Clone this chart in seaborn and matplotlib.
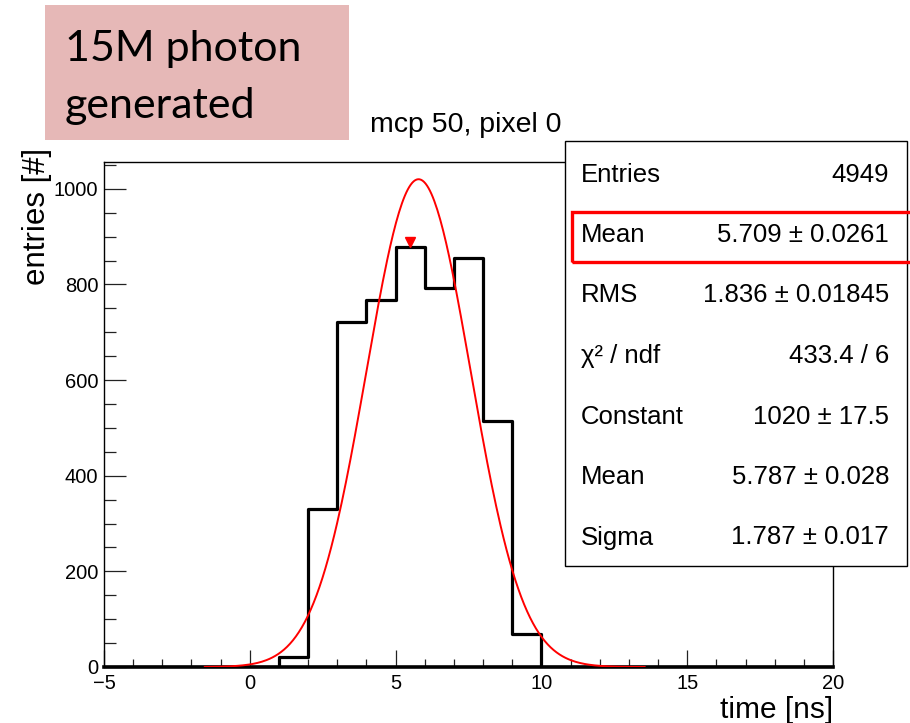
import numpy as np
import pandas as pd
import matplotlib
matplotlib.use("Agg")
import matplotlib.pyplot as plt
from matplotlib.patches import Rectangle
import seaborn as sns

# ---- data ----
bin_centers = [1.5, 2.5, 3.5, 4.5, 5.5, 6.5, 7.5, 8.5, 9.5]
bin_counts = [20, 330, 722, 768, 878, 793, 856, 514, 69]
hist_range = (-5, 20)
fit_constant = 1020.0
fit_mean = 5.787
fit_sigma = 1.787
fit_range = (-1.55, 13.55)
mean_marker = (5.51, 888)

stat_labels = ["Entries", "Mean", "RMS", "χ² / ndf", "Constant", "Mean", "Sigma"]
stat_values = ["4949", "5.709 ± 0.0261", "1.836 ± 0.01845", "433.4 / 6",
               "1020 ± 17.5", "5.787 ± 0.028", "1.787 ± 0.017"]
title = "mcp 50, pixel 0"
note_lines = ["15M photon", "generated"]
x_label = "time [ns]"
y_label = "entries [#]"
y_ticks = [0, 200, 400, 600, 800, 1000]
x_ticks = [-5, 0, 5, 10, 15, 20]

# ---- figure ----
sns.set_theme(style="white")
plt.rcParams["font.family"] = ["Liberation Sans", "DejaVu Sans"]
W, H = 910, 723
fig = plt.figure(figsize=(W / 100, H / 100), dpi=100)
fig.patch.set_facecolor("white")

def fx(px):
    return px / W

def fy(py):
    return 1 - py / H

ax = fig.add_axes([fx(104), fy(667), fx(833) - fx(104), fy(162) - fy(667)])
ax.set_facecolor("white")

df = pd.DataFrame({"t": bin_centers, "n": bin_counts})
sns.histplot(data=df, x="t", weights="n", binwidth=1, binrange=hist_range,
             element="step", fill=False, color="black", linewidth=2.3, ax=ax,
             zorder=3)

xf = np.linspace(fit_range[0], fit_range[1], 300)
yf = fit_constant * np.exp(-0.5 * ((xf - fit_mean) / fit_sigma) ** 2)
sns.lineplot(x=xf, y=yf, color="red", linewidth=1.4, ax=ax, zorder=4)
ax.plot([mean_marker[0]], [mean_marker[1]], marker="v", color="red",
        markersize=7, linestyle="none", zorder=5)

ax.set_xlim(hist_range)
ax.set_ylim(0, 1056)
ax.set_xticks(x_ticks)
ax.set_yticks(y_ticks)
ax.set_xticks(np.arange(-5, 21, 1), minor=True)
ax.set_yticks(np.arange(0, 1051, 50), minor=True)
ax.tick_params(axis="both", which="both", bottom=True, left=True,
               top=False, right=False, direction="in", color="#222222",
               width=0.9)
ax.tick_params(axis="x", which="major", length=12, pad=5, labelsize=14.5,
               labelcolor="black")
ax.tick_params(axis="x", which="minor", length=6)
ax.tick_params(axis="y", which="major", length=16, pad=4, labelsize=14.5,
               labelcolor="black")
ax.tick_params(axis="y", which="minor", length=8.5)
for s in ax.spines.values():
    s.set_color("black")
    s.set_linewidth(1.0)
ax.spines["bottom"].set_linewidth(2.6)
ax.spines["bottom"].set_zorder(3)
ax.set_xlabel("")
ax.set_ylabel("")

fig.text(fx(833), fy(718), x_label, ha="right", va="baseline", fontsize=21.5,
         color="black")
fig.text(fx(37), fy(148), y_label, ha="center", va="top", rotation=90,
         fontsize=22.5, color="black")
fig.text(fx(370), fy(132), title, ha="left", va="baseline", fontsize=20.5,
         color="black")

# pink note box
fig.add_artist(Rectangle((fx(45), fy(140)), fx(349) - fx(45), fy(5) - fy(140),
                         transform=fig.transFigure, facecolor="#e6b8b7",
                         edgecolor="none", zorder=1))
fig.text(fx(65), fy(61), note_lines[0], ha="left", va="baseline",
         fontsize=31, family=["Lato", "DejaVu Sans"], color="black", zorder=2)
fig.text(fx(65), fy(118), note_lines[1], ha="left", va="baseline",
         fontsize=31, family=["Lato", "DejaVu Sans"], color="black", zorder=2)

# stats box
fig.add_artist(Rectangle((fx(565), fy(566)), fx(907) - fx(565), fy(141) - fy(566),
                         transform=fig.transFigure, facecolor="white",
                         edgecolor="black", linewidth=1.0, zorder=5))
row_y = [172, 232, 293, 353, 414, 475, 535]
for lab, val, yy in zip(stat_labels, stat_values, row_y):
    fig.text(fx(581), fy(yy), lab, ha="left", va="center_baseline",
             fontsize=18.5, color="black", zorder=6)
    fig.text(fx(889), fy(yy), val, ha="right", va="center_baseline",
             fontsize=18.5, color="black", zorder=6)
fig.add_artist(Rectangle((fx(572), fy(262)), fx(915) - fx(572), fy(212) - fy(262),
                         transform=fig.transFigure, facecolor="none",
                         edgecolor="#ff0000", linewidth=2.4, zorder=7))

fig.savefig("out.png", dpi=100)
